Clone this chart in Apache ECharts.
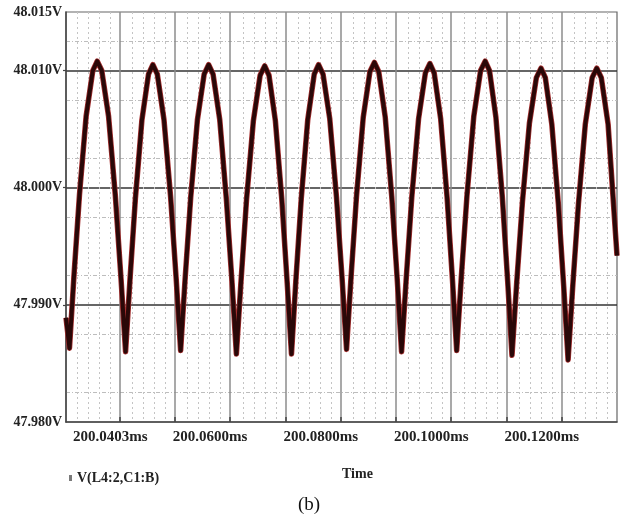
<!DOCTYPE html>
<html>
<head>
<meta charset="utf-8">
<script src="https://cdn.jsdelivr.net/npm/echarts@6/dist/echarts.min.js"></script>
<style>
html,body{margin:0;padding:0;background:#fff;}
#c{width:622px;height:515px;}
</style>
</head>
<body>
<div id="c"></div>
<script>
// time in microseconds after 200 ms
const timeUs = [
  40.30, 40.93,
  41.73, 42.74, 43.94, 45.15, 45.95, 46.77, 48.00, 49.23, 50.26, 51.08,
  51.87, 52.86, 54.04, 55.23, 56.02, 56.82, 58.03, 59.23, 60.24, 61.04,
  61.85, 62.87, 64.08, 65.30, 66.11, 66.91, 68.12, 69.32, 70.33, 71.13,
  71.95, 72.97, 74.20, 75.43, 76.25, 77.03, 78.19, 79.35, 80.32, 81.10,
  81.88, 82.86, 84.04, 85.22, 86.00, 86.81, 88.02, 89.24, 90.25, 91.06,
  91.87, 92.87, 94.08, 95.29, 96.10, 96.89, 98.07, 99.25, 100.23, 101.02,
  101.84, 102.87, 104.10, 105.33, 106.15, 106.92, 108.09, 109.25, 110.22, 110.99,
  111.82, 112.85, 114.09, 115.32, 116.15, 116.93, 118.09, 119.25, 120.22, 121.00,
  121.84, 122.89, 124.15, 125.41, 126.25, 127.03, 128.21, 129.39, 130.37, 131.15,
  131.98, 133.02, 134.26, 135.51, 136.34, 137.16, 138.39, 140.00
];
// V(L4:2,C1:B) in volts
const voltageV = [
  47.9889, 47.9863,
  47.9924, 47.9994, 48.0061, 48.0100, 48.0108, 48.0100, 48.0061, 47.9993, 47.9922, 47.9860,
  47.9921, 47.9991, 48.0058, 48.0097, 48.0105, 48.0097, 48.0058, 47.9992, 47.9922, 47.9861,
  47.9922, 47.9992, 48.0058, 48.0097, 48.0105, 48.0097, 48.0058, 47.9990, 47.9920, 47.9858,
  47.9919, 47.9990, 48.0057, 48.0096, 48.0104, 48.0096, 48.0057, 47.9990, 47.9919, 47.9858,
  47.9920, 47.9990, 48.0058, 48.0097, 48.0105, 48.0097, 48.0059, 47.9992, 47.9923, 47.9862,
  47.9923, 47.9993, 48.0060, 48.0099, 48.0107, 48.0099, 48.0060, 47.9992, 47.9922, 47.9860,
  47.9921, 47.9992, 48.0059, 48.0098, 48.0106, 48.0098, 48.0059, 47.9992, 47.9922, 47.9861,
  47.9923, 47.9993, 48.0061, 48.0100, 48.0108, 48.0100, 48.0060, 47.9992, 47.9920, 47.9857,
  47.9918, 47.9988, 48.0055, 48.0094, 48.0102, 48.0094, 48.0054, 47.9986, 47.9915, 47.9853,
  47.9915, 47.9986, 48.0054, 48.0094, 48.0102, 48.0094, 48.0054, 47.9942
];
const seriesName = 'V(L4:2,C1:B)';
const xLabelValues = [40.3, 60, 80, 100, 120];
const xLabelTexts = ['200.0403ms', '200.0600ms', '200.0800ms', '200.1000ms', '200.1200ms'];
const xMajorTicks = [50, 60, 70, 80, 90, 100, 110, 120, 130];
const yLabelValues = [47.98, 47.99, 48.00, 48.01, 48.015];
const yMajorTicks = [47.99, 48.00, 48.01];
const xAxisTitle = 'Time';
const caption = '(b)';

const data = timeUs.map((t, i) => [t, voltageV[i]]);
const serif = '"Liberation Serif", "Times New Roman", serif';

const chart = echarts.init(document.getElementById('c'), null, {renderer: 'canvas'});
chart.setOption({
  animation: false,
  backgroundColor: '#fff',
  grid: {left: 66, right: 5, top: 12, bottom: 93, show: true, borderColor: '#666', borderWidth: 1.2},
  legend: {
    show: true, data: [seriesName], left: 64, top: 466,
    icon: 'rect', itemWidth: 3, itemHeight: 6, itemGap: 4,
    textStyle: {fontFamily: serif, fontWeight: 'bold', fontSize: 14, color: '#222'}
  },
  xAxis: {
    type: 'value', min: 40.3, max: 140, interval: 10,
    axisLine: {show: true, lineStyle: {color: '#444', width: 1.5}},
    axisTick: {show: true, inside: true, length: 5, customValues: xMajorTicks, lineStyle: {color: '#444', width: 1.5}},
    axisLabel: {
      customValues: xLabelValues, align: 'left', margin: 8,
      fontFamily: serif, fontWeight: 'bold', fontSize: 15, color: '#222',
      formatter: function (v) {
        let k = 0;
        xLabelValues.forEach((x, i) => { if (Math.abs(x - v) < Math.abs(xLabelValues[k] - v)) k = i; });
        return k === 0 ? '{a|' + xLabelTexts[k] + '}' : '{b|' + xLabelTexts[k] + '}';
      },
      rich: {
        a: {fontFamily: serif, fontWeight: 'bold', fontSize: 15, color: '#222', padding: [0, 0, 0, 7]},
        b: {fontFamily: serif, fontWeight: 'bold', fontSize: 15, color: '#222', padding: [0, 0, 0, -2]}
      }
    },
    splitLine: {show: true, lineStyle: {color: '#8c8c8c', width: 1.5}},
    minorTick: {show: false, splitNumber: 5},
    minorSplitLine: {show: true, lineStyle: {color: '#c4c4c4', width: 1, type: [2, 3]}}
  },
  yAxis: {
    type: 'value', min: 47.98, max: 48.015, interval: 0.005,
    axisLine: {show: true, lineStyle: {color: '#444', width: 1.5}},
    axisTick: {show: true, length: 3, customValues: yMajorTicks, lineStyle: {color: '#444', width: 1.2}},
    axisLabel: {
      customValues: yLabelValues, margin: 4,
      fontFamily: serif, fontWeight: 'bold', fontSize: 14, color: '#222',
      formatter: v => v.toFixed(3) + 'V'
    },
    splitLine: {show: true, lineStyle: {color: '#333', width: 1.5}},
    minorTick: {show: false, splitNumber: 2},
    minorSplitLine: {show: true, lineStyle: {color: '#bdbdbd', width: 1, type: [4, 2, 1, 2]}}
  },
  graphic: [
    {type: 'text', left: 342, top: 467, style: {text: xAxisTitle, font: 'bold 14px ' + serif, fill: '#222'}},
    {type: 'text', left: 298, top: 496, style: {text: caption, font: '19px ' + serif, fill: '#111'}}
  ],
  series: [
    {
      name: 'halo', type: 'line', data: data, showSymbol: false, silent: true,
      lineStyle: {color: '#a53030', width: 5.5, join: 'round'}, z: 2
    },
    {
      name: seriesName, type: 'line', data: data, showSymbol: false,
      itemStyle: {color: '#7a7a7a'},
      lineStyle: {color: '#2a0808', width: 4, join: 'round'}, z: 3
    }
  ]
});
</script>
</body>
</html>
